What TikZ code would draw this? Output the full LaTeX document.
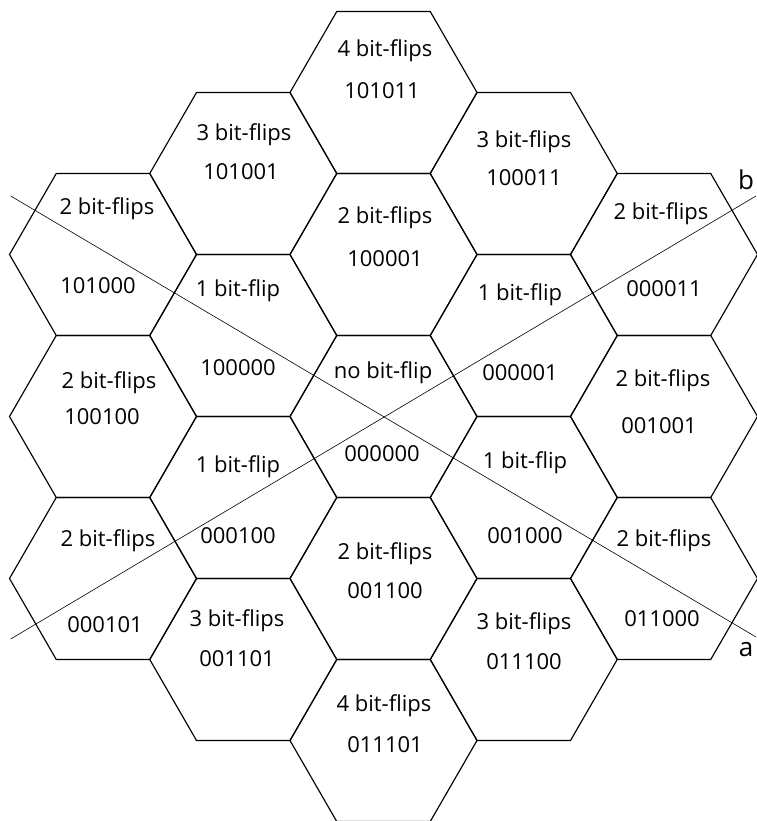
\documentclass[tikz,border=0pt]{standalone}
\usepackage{fontspec}
\setmainfont{Open Sans}
\usetikzlibrary{shapes.geometric}

\tikzset{
  hexcell/.style={regular polygon, regular polygon sides=6, draw=black,
    line width=1.15pt, inner sep=0pt, outer sep=0pt, minimum size=187pt},
  lbl/.style={font=\fontsize{22}{26}\selectfont, inner sep=0pt,
    text height=0.62em, text depth=0pt, anchor=center, yshift=-3pt},
  axisline/.style={draw=black, line width=0.6pt},
  axislbl/.style={font=\fontsize{26}{30}\selectfont, inner sep=0pt,
    text height=0.5em, text depth=0pt, anchor=center}
}

\begin{document}
\begin{tikzpicture}[x=1pt,y=-1pt]
  \useasboundingbox (0,0) rectangle (756,821);

  % centre column
  \node[hexcell] (h0a) at (383.5, 92.5) {};
  \node[hexcell] (h0b) at (383.5,254.5) {};
  \node[hexcell] (h0c) at (383.5,416.5) {};
  \node[hexcell] (h0d) at (383.5,578.5) {};
  \node[hexcell] (h0e) at (383.5,740.5) {};
  % inner left column
  \node[hexcell] (hLa) at (243.25,173.5) {};
  \node[hexcell] (hLb) at (243.25,335.5) {};
  \node[hexcell] (hLc) at (243.25,497.5) {};
  \node[hexcell] (hLd) at (243.25,659.5) {};
  % inner right column
  \node[hexcell] (hRa) at (523.75,173.5) {};
  \node[hexcell] (hRb) at (523.75,335.5) {};
  \node[hexcell] (hRc) at (523.75,497.5) {};
  \node[hexcell] (hRd) at (523.75,659.5) {};
  % outer left column
  \node[hexcell] (hLLa) at (103,254.5) {};
  \node[hexcell] (hLLb) at (103,416.5) {};
  \node[hexcell] (hLLc) at (103,578.5) {};
  % outer right column
  \node[hexcell] (hRRa) at (664,254.5) {};
  \node[hexcell] (hRRb) at (664,416.5) {};
  \node[hexcell] (hRRc) at (664,578.5) {};

  % cell texts
  \node[lbl] (t0a1) at (385, 50) {4 bit-flips};
  \node[lbl] (t0a2) at (382, 92) {101011};
  \node[lbl] (t0b1) at (385,217) {2 bit-flips};
  \node[lbl] (t0b2) at (385,260) {100001};
  \node[lbl] (t0c1) at (383,372) {no bit-flip};
  \node[lbl] (t0c2) at (382,455) {000000};
  \node[lbl] (t0d1) at (385,553) {2 bit-flips};
  \node[lbl] (t0d2) at (385,592) {001100};
  \node[lbl] (t0e1) at (384,705) {4 bit-flips};
  \node[lbl] (t0e2) at (385,746) {011101};

  \node[lbl] (tLa1) at (244,134) {3 bit-flips};
  \node[lbl] (tLa2) at (241,173) {101001};
  \node[lbl] (tLb1) at (238,290) {1 bit-flip};
  \node[lbl] (tLb2) at (238,369) {100000};
  \node[lbl] (tLc1) at (238,466) {1 bit-flip};
  \node[lbl] (tLc2) at (238,537) {000100};
  \node[lbl] (tLd1) at (237,620) {3 bit-flips};
  \node[lbl] (tLd2) at (237,660) {001101};

  \node[lbl] (tRa1) at (524,141) {3 bit-flips};
  \node[lbl] (tRa2) at (524,179) {100011};
  \node[lbl] (tRb1) at (520,294) {1 bit-flip};
  \node[lbl] (tRb2) at (520,374) {000001};
  \node[lbl] (tRc1) at (525,462) {1 bit-flip};
  \node[lbl] (tRc2) at (525,537) {001000};
  \node[lbl] (tRd1) at (524,623) {3 bit-flips};
  \node[lbl] (tRd2) at (524,663) {011100};

  \node[lbl] (tLLa1) at (107,208) {2 bit-flips};
  \node[lbl] (tLLa2) at (98,287) {101000};
  \node[lbl] (tLLb1) at (109,382) {2 bit-flips};
  \node[lbl] (tLLb2) at (102,418) {100100};
  \node[lbl] (tLLc1) at (108,540) {2 bit-flips};
  \node[lbl] (tLLc2) at (105,626) {000101};

  \node[lbl] (tRRa1) at (661,213) {2 bit-flips};
  \node[lbl] (tRRa2) at (664,290) {000011};
  \node[lbl] (tRRb1) at (663,380) {2 bit-flips};
  \node[lbl] (tRRb2) at (659,427) {001001};
  \node[lbl] (tRRc1) at (664,540) {2 bit-flips};
  \node[lbl] (tRRc2) at (662,620) {011000};

  % the two axes through the central cell
  \coordinate (a0) at (10.7,196);
  \coordinate (a1) at (756,637);
  \coordinate (b0) at (10.7,639);
  \coordinate (b1) at (756,196);
  \draw[axisline] (a0) -- (a1);
  \draw[axisline] (b0) -- (b1);
  \node[axislbl] (la) at (746,654) {a};
  \node[axislbl] (lb) at (746,187) {b};
\end{tikzpicture}
\end{document}
